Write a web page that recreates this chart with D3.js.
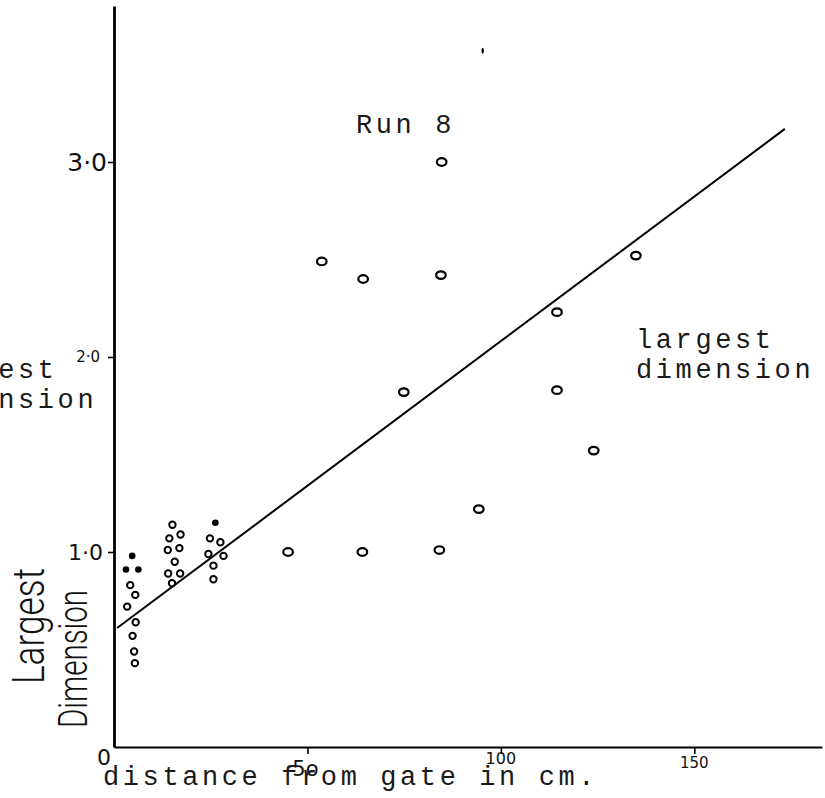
<!DOCTYPE html>
<html>
<head>
<meta charset="utf-8">
<script src="https://cdn.jsdelivr.net/npm/d3@7/dist/d3.min.js"></script>
<style>
  body { margin: 0; background: #fff; }
  svg { display: block; }
  .typed { font-family: 'Liberation Mono', 'DejaVu Sans Mono', monospace; font-size: 27px; letter-spacing: 3.6px; fill: #1a1a1a; }
  .hand { font-family: 'DejaVu Sans', sans-serif; fill: #111; }
  .title { font-family: Roboto, 'DejaVu Sans', sans-serif; font-weight: 300; fill: #111; }
</style>
</head>
<body>
<svg width="825" height="798"></svg>
<script>
// values: [distance from gate (cm), largest dimension]
const filledDots = [[4.7, 0.98], [3.1, 0.91], [6.3, 0.91], [26.2, 1.15]];
const specks = [[95.3, 3.57]];
const nearGate = [
  [4.2, 0.83], [5.5, 0.78], [3.4, 0.72], [5.6, 0.64], [4.8, 0.57], [5.2, 0.49], [5.4, 0.43],
  [15.1, 1.14], [14.3, 1.07], [17.2, 1.09], [13.9, 1.01], [16.9, 1.02], [15.7, 0.95],
  [14.0, 0.89], [17.1, 0.89], [15.0, 0.84],
  [24.8, 1.07], [27.5, 1.05], [24.4, 0.99], [28.3, 0.98], [25.7, 0.93], [25.7, 0.86]
];
const farPoints = [
  [45.0, 1.0], [64.2, 1.0], [84.1, 1.01], [53.7, 2.49], [64.4, 2.40], [84.7, 3.0],
  [84.5, 2.42], [74.9, 1.82], [114.5, 2.23], [114.5, 1.83], [124.0, 1.52],
  [134.9, 2.52], [94.3, 1.22]
];
const fitLine = [[0.8, 0.61], [173.4, 3.17]];
const yTicks = [1, 2, 3];
const yTickLabels = ['1·0', '2·0', '3·0'];
const xTicks = [50, 100, 150];
const xTickLabels = ['5o', '100', '150'];

const svg = d3.select('svg');

const x = d3.scaleLinear().domain([0, 183]).range([114, 822]);
const y = d3.scaleLinear().domain([0, 3.8]).range([747, 6]);

// axes
svg.append('g')
  .attr('transform', `translate(0, ${y(0)})`)
  .call(d3.axisBottom(x).tickValues(xTicks).tickSize(7).tickSizeOuter(0).tickFormat(''))
  .call(g => g.select('.domain').attr('stroke-width', 2.2))
  .call(g => g.selectAll('.tick line').attr('stroke-width', 1.6));

svg.append('g')
  .attr('transform', `translate(${x(0)}, 0)`)
  .call(d3.axisLeft(y).tickValues(yTicks).tickSize(6).tickSizeOuter(0).tickFormat(''))
  .call(g => g.select('.domain').attr('stroke-width', 2.8))
  .call(g => g.selectAll('.tick line').attr('stroke-width', 1.6));

// hand written tick labels (sizes differ on the scan)
const ySize = { 1: 22, 2: 15, 3: 25 };
svg.selectAll('.ylab')
  .data(yTicks)
  .join('text')
  .attr('class', 'hand ylab')
  .attr('x', d => x(0) - (d === 3 ? 7 : d === 2 ? 14 : 11))
  .attr('y', d => y(d) + ySize[d] * 0.36)
  .attr('text-anchor', 'end')
  .style('font-size', d => ySize[d] + 'px')
  .text((d, i) => yTickLabels[i]);

const xSize = [21, 16, 15];
svg.selectAll('.xlab')
  .data(xTicks)
  .join('text')
  .attr('class', 'hand xlab')
  .attr('x', d => x(d) - (d === 50 ? 2 : 0))
  .attr('y', (d, i) => (i === 0 ? 776 : i === 1 ? 764 : 768))
  .attr('text-anchor', 'middle')
  .style('font-size', (d, i) => xSize[i] + 'px')
  .text((d, i) => xTickLabels[i]);

svg.append('text')
  .attr('class', 'hand')
  .attr('x', x(0) - 10)
  .attr('y', 765)
  .attr('text-anchor', 'middle')
  .style('font-size', '22px')
  .text('0');

// fitted line
svg.append('path')
  .datum(fitLine)
  .attr('d', d3.line().x(d => x(d[0])).y(d => y(d[1])))
  .attr('fill', 'none')
  .attr('stroke', '#000')
  .attr('stroke-width', 2);

// points
svg.append('g')
  .selectAll('ellipse')
  .data(farPoints)
  .join('ellipse')
  .attr('cx', d => x(d[0]))
  .attr('cy', d => y(d[1]))
  .attr('rx', 4.8)
  .attr('ry', 3.8)
  .attr('fill', 'none')
  .attr('stroke', '#000')
  .attr('stroke-width', 2.2);

svg.append('g')
  .selectAll('circle')
  .data(nearGate)
  .join('circle')
  .attr('cx', d => x(d[0]))
  .attr('cy', d => y(d[1]))
  .attr('r', 3.2)
  .attr('fill', 'none')
  .attr('stroke', '#000')
  .attr('stroke-width', 2);

svg.append('g')
  .selectAll('circle')
  .data(filledDots)
  .join('circle')
  .attr('cx', d => x(d[0]))
  .attr('cy', d => y(d[1]))
  .attr('r', 3.3)
  .attr('fill', '#000');

svg.append('g')
  .selectAll('ellipse')
  .data(specks)
  .join('ellipse')
  .attr('cx', d => x(d[0]))
  .attr('cy', d => y(d[1]))
  .attr('rx', 1.2)
  .attr('ry', 3)
  .attr('fill', '#000');

// typed labels
svg.append('text').attr('class', 'typed').attr('x', 356).attr('y', 133).text('Run 8');
svg.append('text').attr('class', 'typed').attr('x', 636).attr('y', 348).text('largest');
svg.append('text').attr('class', 'typed').attr('x', 636).attr('y', 378).text('dimension');
svg.append('text').attr('class', 'typed').attr('x', -81).attr('y', 378).text('largest');
svg.append('text').attr('class', 'typed').attr('x', -81).attr('y', 408).text('dimension');
svg.append('text').attr('class', 'typed').attr('x', 103).attr('y', 785).text('distance from gate in cm.');

// hand written axis title
const ttl = svg.append('g').attr('class', 'title');
ttl.append('text')
  .attr('transform', 'translate(44, 684) rotate(-90)')
  .attr('textLength', 116)
  .attr('lengthAdjust', 'spacingAndGlyphs')
  .style('font-size', '45px')
  .text('Largest');
ttl.append('text')
  .attr('transform', 'translate(87, 728) rotate(-90)')
  .attr('textLength', 138)
  .attr('lengthAdjust', 'spacingAndGlyphs')
  .style('font-size', '40px')
  .text('Dimension');
</script>
</body>
</html>
